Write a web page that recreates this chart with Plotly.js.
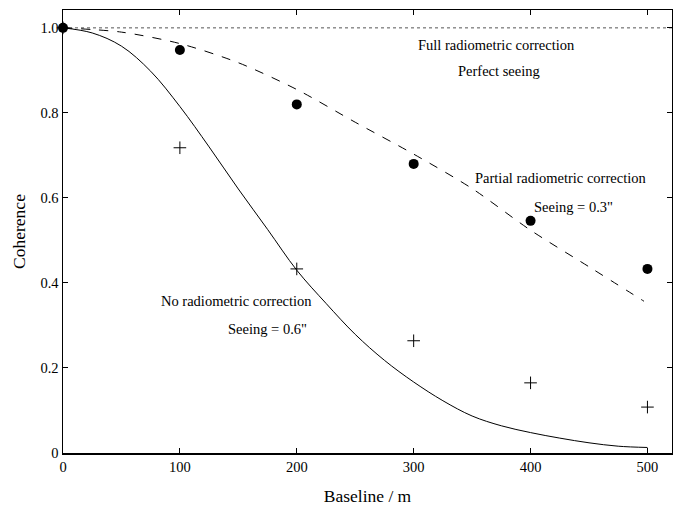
<!DOCTYPE html>
<html>
<head>
<meta charset="utf-8">
<script src="https://cdn.plot.ly/plotly-3.0.1.min.js"></script>
<style>html,body{margin:0;padding:0;background:#fff}</style>
</head>
<body>
<div id="chart" style="width:673px;height:508px"></div>
<script>
// Measured points
const baselinePts = [0, 100, 200, 300, 400, 500];
const partialPts = [1.0, 0.948, 0.820, 0.680, 0.546, 0.433];
const nonePts = [1.0, 0.718, 0.433, 0.264, 0.165, 0.108];

// Model curves
const partialX = [0, 50, 100, 150, 200, 250, 300, 350, 400, 450, 497];
const partialY = [1.0, 0.990, 0.963, 0.918, 0.855, 0.778, 0.703, 0.622, 0.524, 0.438, 0.357];
const noneX = [0, 25, 50, 75, 100, 125, 150, 175, 200, 225, 250, 275, 300, 325, 350, 375, 400, 425, 450, 475, 500];
const noneY = [1.0, 0.988, 0.957, 0.898, 0.815, 0.720, 0.621, 0.526, 0.430, 0.352, 0.279, 0.218, 0.167, 0.123, 0.087, 0.064, 0.048, 0.035, 0.024, 0.016, 0.013];
const fullX = [0, 521];
const fullY = [1.0, 1.0];

const xTicks = [0, 100, 200, 300, 400, 500];
const xTickText = ["0", "100", "200", "300", "400", "500"];
const yTicks = [0, 0.2, 0.4, 0.6, 0.8, 1.0];
const yTickText = ["0", "0.2", "0.4", "0.6", "0.8", "1.0"];

const font = "Liberation Serif, Times New Roman, serif";

const traces = [
  {x: fullX, y: fullY, mode: "lines", line: {color: "#555", width: 1, dash: "dot"}},
  {x: partialX, y: partialY, mode: "lines", line: {color: "#000", width: 1, dash: "dash", shape: "spline", smoothing: 0.8}},
  {x: noneX, y: noneY, mode: "lines", line: {color: "#000", width: 1, shape: "spline", smoothing: 1}},
  {x: baselinePts, y: nonePts, mode: "markers", cliponaxis: false, marker: {symbol: "cross-thin", size: 9, line: {color: "#000", width: 1}}},
  {x: baselinePts, y: partialPts, mode: "markers", cliponaxis: false, marker: {symbol: "circle", size: 10, color: "#000"}}
];

const ann = (x, y, text) => ({x: x, y: y, xref: "x", yref: "y", text: text, showarrow: false, font: {family: font, size: 14.5, color: "#000"}});

const layout = {
  width: 673, height: 508,
  margin: {l: 63, r: 1, t: 10, b: 55},
  paper_bgcolor: "#fff", plot_bgcolor: "#fff",
  showlegend: false,
  font: {family: font, color: "#000"},
  xaxis: {
    range: [0, 521], showgrid: false, zeroline: false,
    showline: true, linecolor: "#000", linewidth: 1.5, mirror: "ticks",
    ticks: "inside", ticklen: 5, tickcolor: "#000", tickwidth: 1,
    tickvals: xTicks, ticktext: xTickText,
    tickfont: {family: font, size: 14.5, color: "#000"},
    title: {text: "Baseline / m", font: {family: font, size: 17.5, color: "#000"}, standoff: 16}
  },
  yaxis: {
    range: [0, 1.042], showgrid: false, zeroline: false,
    showline: true, linecolor: "#000", linewidth: 1.5, mirror: "ticks",
    ticks: "inside", ticklen: 5, tickcolor: "#000", tickwidth: 1,
    tickvals: yTicks, ticktext: yTickText,
    tickfont: {family: font, size: 14.5, color: "#000"},
    title: {text: "Coherence", font: {family: font, size: 17.5, color: "#000"}, standoff: 10}
  },
  annotations: [
    ann(371, 0.960, "Full radiometric correction"),
    ann(373, 0.899, "Perfect seeing"),
    ann(426, 0.647, "Partial radiometric correction"),
    ann(437, 0.579, "Seeing = 0.3\""),
    ann(148, 0.358, "No radiometric correction"),
    ann(175, 0.292, "Seeing = 0.6\"")
  ]
};

Plotly.newPlot("chart", traces, layout, {displayModeBar: false, staticPlot: true});
</script>
</body>
</html>
